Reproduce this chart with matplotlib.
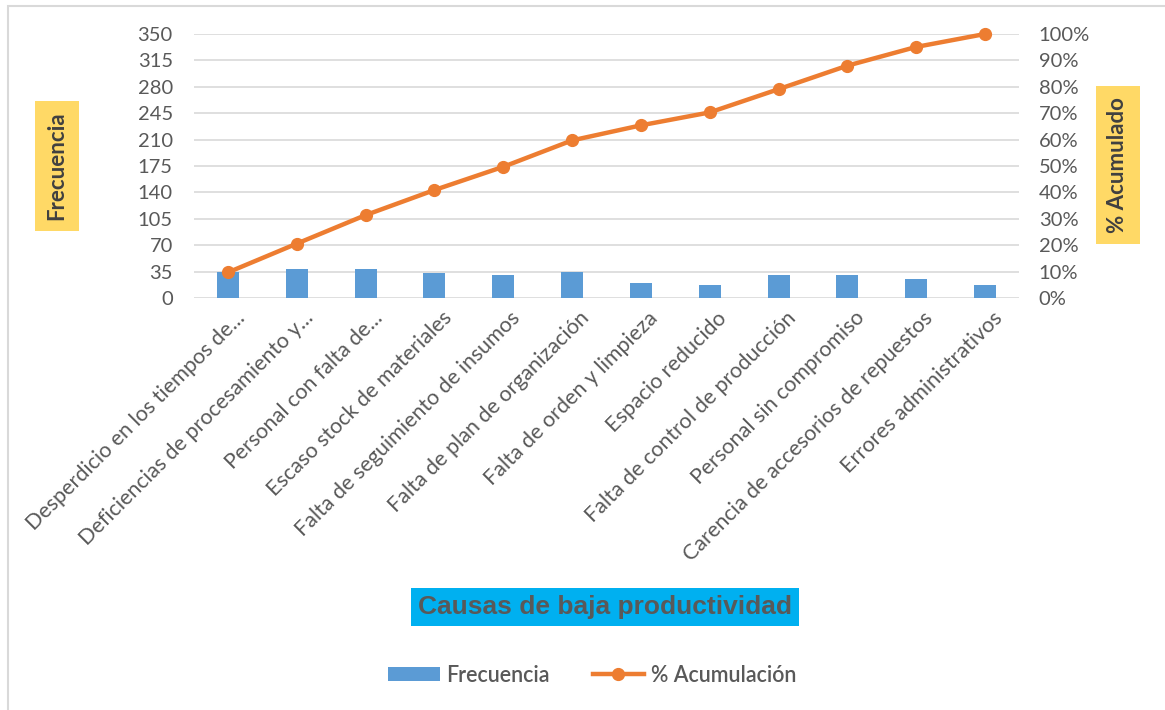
import matplotlib.pyplot as plt
import matplotlib.patches as patches
import matplotlib.lines as mlines
import matplotlib.transforms as mtransforms
import numpy as np

causas = [
    'Desperdicio en los tiempos de...',
    'Deficiencias de procesamiento y...',
    'Personal con falta de...',
    'Escaso stock de materiales',
    'Falta de seguimiento de insumos',
    'Falta de plan de organización',
    'Falta de orden y limpieza',
    'Espacio reducido',
    'Falta de control de producción',
    'Personal sin compromiso',
    'Carencia de accesorios de repuestos',
    'Errores administrativos',
]
frecuencia = [34, 38, 38, 33, 31, 35, 20, 17, 31, 31, 25, 17]
acumulado = [9.7, 20.6, 31.4, 40.9, 49.7, 59.7, 65.4, 70.3, 79.1, 88.0, 95.1, 100.0]

freq_ticks = [0, 35, 70, 105, 140, 175, 210, 245, 280, 315, 350]
pct_ticks = [0, 10, 20, 30, 40, 50, 60, 70, 80, 90, 100]

BLUE = '#5B9BD5'
ORANGE = '#ED7D31'
GRAY = '#595959'
GRID = '#D9D9D9'
YELLOW = '#FFD966'
CYAN = '#00B0F0'

plt.rcParams['font.family'] = ['Lato', 'DejaVu Sans']

W, H = 1165, 710
fig = plt.figure(figsize=(W / 100, H / 100), dpi=100)

# outer chart border (left and top edges visible)
fig.patches.append(patches.Rectangle((8 / W, -0.1), 1.2, 1 - 6 / H + 0.1,
                                     transform=fig.transFigure, fill=False,
                                     edgecolor=GRID, linewidth=1.5))

ax = fig.add_axes([193.6 / W, 1 - 298 / H, 825.8 / W, 264 / H])
x = np.arange(len(causas))

ax.bar(x, frecuencia, width=0.32, color=BLUE, zorder=2)
ax.set_xlim(-0.5, len(causas) - 0.5)
ax.set_ylim(0, 350)
ax.set_yticks(freq_ticks)
ax.yaxis.grid(True, color=GRID, linewidth=1.2, zorder=0)
ax.set_axisbelow(True)
for s in ax.spines.values():
    s.set_visible(False)
ax.tick_params(axis='both', length=0, labelsize=14.5, labelcolor=GRAY)
ax.tick_params(axis='y', pad=15)

ax.set_xticks(x)
ax.set_xticklabels(causas, rotation=45, ha='right', va='center',
                   rotation_mode='anchor', fontsize=15.5, color=GRAY)
shift = mtransforms.ScaledTranslation(0.14, -0.12, fig.dpi_scale_trans)
for lab in ax.get_xticklabels():
    lab.set_transform(lab.get_transform() + shift)

ax2 = ax.twinx()
ax2.plot(x, acumulado, color=ORANGE, linewidth=3.2, marker='o',
         markersize=8.5, zorder=3, clip_on=False)
ax2.set_ylim(0, 100)
ax2.set_yticks(pct_ticks)
ax2.set_yticklabels([f'{p}%' for p in pct_ticks])
for s in ax2.spines.values():
    s.set_visible(False)
ax2.tick_params(axis='y', length=0, labelsize=14.5, labelcolor=GRAY, pad=14)

# axis titles in coloured boxes
fig.text(57 / W, 1 - 166 / H, 'Frecuencia', rotation=90, ha='center',
         va='center', fontsize=16, fontweight='bold', color='#404040',
         bbox=dict(boxstyle='square,pad=0.5', facecolor=YELLOW,
                   edgecolor='none'))
fig.text(1118 / W, 1 - 165 / H, '% Acumulado', rotation=90, ha='center',
         va='center', fontsize=16, fontweight='bold', color='#404040',
         bbox=dict(boxstyle='square,pad=0.5', facecolor=YELLOW,
                   edgecolor='none'))
fig.text(605 / W, 1 - 607 / H, 'Causas de baja productividad',
         ha='center', va='center', fontsize=19, fontweight='bold',
         family='Liberation Sans', color=GRAY,
         bbox=dict(boxstyle='square,pad=0.25', facecolor=CYAN,
                   edgecolor='none'))

h_bar = patches.Patch(facecolor=BLUE, label='Frecuencia')
h_line = mlines.Line2D([], [], color=ORANGE, linewidth=3.2, marker='o',
                       markersize=8.5, label='% Acumulación')
fig.legend(handles=[h_bar, h_line], loc='center',
           bbox_to_anchor=(592 / W, 1 - 675 / H), ncol=2, frameon=False,
           prop={'size': 15.5, 'weight': 'semibold'}, labelcolor=GRAY,
           handlelength=2.4, handleheight=0.6, columnspacing=2.0,
           handletextpad=0.3)

fig.savefig('out.png', dpi=100, facecolor='white')
